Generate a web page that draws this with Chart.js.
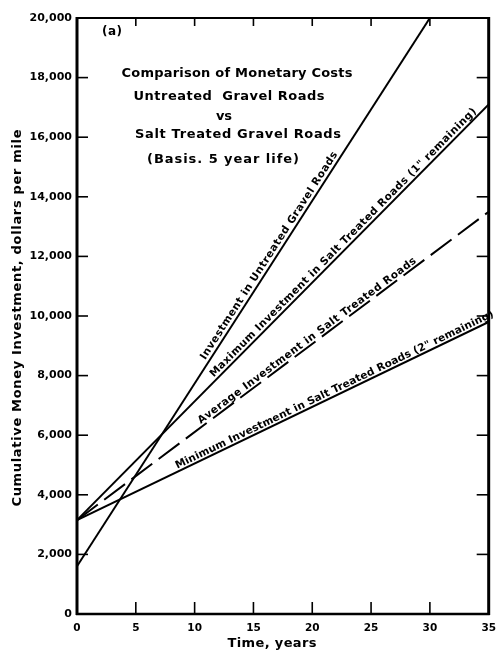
<!DOCTYPE html>
<html>
<head>
<meta charset="utf-8">
<script src="https://cdn.jsdelivr.net/npm/chart.js@4.4.1/dist/chart.umd.min.js"></script>
<style>
  html, body { margin: 0; padding: 0; background: #fff; }
  #c { display: block; }
</style>
</head>
<body>
<canvas id="c" width="504" height="656"></canvas>
<script>
// Cumulative investment (dollars per mile) against time (years)
const untreatedYears = [0, 30];
const untreatedCost = [1600, 20000];
const saltYears = [0, 35];
const maxCost = [3150, 17100];
const avgCost = [3150, 13500];
const minCost = [3150, 9800];

const xTickValues = [0, 5, 10, 15, 20, 25, 30, 35];
const yTickValues = [0, 2000, 4000, 6000, 8000, 10000, 12000, 14000, 16000, 18000, 20000];

const titleLines = [
  "Comparison of Monetary Costs",
  "Untreated  Gravel Roads",
  "vs",
  "Salt Treated Gravel Roads",
  "(Basis. 5 year life)"
];
const panelTag = "(a)";
const xTitle = "Time, years";
const yTitle = "Cumulative Money Investment, dollars per mile";

const labelUntreated = "Investment in Untreated Gravel Roads";
const labelMax = "Maximum Investment in Salt Treated Roads (1\" remaining)";
const labelAvg = "Average Investment in Salt Treated Roads";
const labelMin = "Minimum Investment in Salt Treated Roads (2\" remaining)";

const toPoints = (xs, ys) => xs.map((x, i) => ({ x: x, y: ys[i] }));

// Draw text stretched (by letter spacing) to a given width, centred on cx
function fitText(ctx, text, cx, cy, width) {
  const w0 = ctx.measureText(text).width;
  const n = text.length;
  if ('letterSpacing' in ctx && n > 1) {
    const ls = (width - w0) / (n - 1);
    ctx.letterSpacing = ls + 'px';
    ctx.textAlign = 'left';
    ctx.fillText(text, cx - width / 2, cy);
    ctx.letterSpacing = '0px';
  } else {
    ctx.save();
    ctx.translate(cx, cy);
    ctx.scale(width / w0, 1);
    ctx.textAlign = 'center';
    ctx.fillText(text, 0, 0);
    ctx.restore();
  }
}

// Text set along each line: [text, dataset index, centre year, length px, offset px]
const lineTextSpec = [
  [labelUntreated, 0, 16.8, 245, 6.5],
  [labelMax, 1, 23.0, 374, 6.0],
  [labelAvg, 2, 19.85, 270, 5.5],
  [labelMin, 3, 22.1, 352, 5.5]
];

const decorPlugin = {
  id: 'decor',
  afterDatasetsDraw(chart) {
    const ctx = chart.ctx;
    const xs = chart.scales.x, ys = chart.scales.y;
    const L = chart.chartArea.left, R = chart.chartArea.right;
    const T = chart.chartArea.top, B = chart.chartArea.bottom;
    ctx.save();
    ctx.strokeStyle = '#000';
    ctx.fillStyle = '#000';
    ctx.lineCap = 'butt';

    // frame
    ctx.lineWidth = 3;
    ctx.beginPath(); ctx.moveTo(L, T - 1); ctx.lineTo(L, B + 1); ctx.stroke();
    ctx.beginPath(); ctx.moveTo(R, T - 1); ctx.lineTo(R, B + 1); ctx.stroke();
    ctx.lineWidth = 2.5;
    ctx.beginPath(); ctx.moveTo(L - 1, B); ctx.lineTo(R + 1, B); ctx.stroke();
    ctx.lineWidth = 2;
    ctx.beginPath(); ctx.moveTo(L - 1, T); ctx.lineTo(R + 1, T); ctx.stroke();

    // inward tick marks
    ctx.lineWidth = 1.6;
    xTickValues.slice(1, -1).forEach(v => {
      const px = xs.getPixelForValue(v);
      ctx.beginPath(); ctx.moveTo(px, B); ctx.lineTo(px, B - 12); ctx.stroke();
      ctx.beginPath(); ctx.moveTo(px, T); ctx.lineTo(px, T + 8); ctx.stroke();
    });
    yTickValues.slice(1, -1).forEach(v => {
      const py = ys.getPixelForValue(v);
      ctx.beginPath(); ctx.moveTo(L, py); ctx.lineTo(L + 11, py); ctx.stroke();
      ctx.beginPath(); ctx.moveTo(R, py); ctx.lineTo(R - 12, py); ctx.stroke();
    });

    // heading block
    ctx.textBaseline = 'middle';
    ctx.font = 'bold 13px "DejaVu Sans"';
    fitText(ctx, titleLines[0], 237, 74, 231);
    fitText(ctx, titleLines[1], 229, 97, 191);
    ctx.textAlign = 'center';
    ctx.fillText(titleLines[2], 224, 117);
    fitText(ctx, titleLines[3], 238, 135, 206);
    fitText(ctx, titleLines[4], 223, 160, 152);
    ctx.font = 'bold 12px "DejaVu Sans"';
    fitText(ctx, panelTag, 112, 32, 20);

    // axis titles
    ctx.font = 'bold 13px "DejaVu Sans"';
    fitText(ctx, xTitle, 272, 644, 89);
    ctx.save();
    ctx.translate(18, 318);
    ctx.rotate(-Math.PI / 2);
    fitText(ctx, yTitle, 0, 0, 377);
    ctx.restore();

    // labels running along the lines
    ctx.font = 'bold 10.5px "DejaVu Sans"';
    lineTextSpec.forEach(([text, di, yr, len, off]) => {
      const pts = chart.data.datasets[di].data;
      const p0 = pts[0], p1 = pts[pts.length - 1];
      const val = p0.y + (p1.y - p0.y) * (yr - p0.x) / (p1.x - p0.x);
      const x0 = xs.getPixelForValue(p0.x), y0 = ys.getPixelForValue(p0.y);
      const x1 = xs.getPixelForValue(p1.x), y1 = ys.getPixelForValue(p1.y);
      const ang = Math.atan2(y1 - y0, x1 - x0);
      const cx = xs.getPixelForValue(yr), cy = ys.getPixelForValue(val);
      ctx.save();
      ctx.translate(cx, cy);
      ctx.rotate(ang);
      ctx.textBaseline = 'middle';
      fitText(ctx, text, 0, -off, len);
      ctx.restore();
    });
    ctx.restore();
  }
};

const lineStyle = {
  type: 'scatter',
  showLine: true,
  borderColor: '#000',
  backgroundColor: '#000',
  borderWidth: 2,
  pointRadius: 0,
  fill: false,
  tension: 0
};

new Chart(document.getElementById('c'), {
  type: 'scatter',
  data: {
    datasets: [
      Object.assign({ label: labelUntreated, data: toPoints(untreatedYears, untreatedCost) }, lineStyle),
      Object.assign({ label: labelMax, data: toPoints(saltYears, maxCost) }, lineStyle),
      Object.assign({ label: labelAvg, data: toPoints(saltYears, avgCost), borderDash: [26, 8] }, lineStyle),
      Object.assign({ label: labelMin, data: toPoints(saltYears, minCost) }, lineStyle)
    ]
  },
  options: {
    responsive: false,
    animation: false,
    devicePixelRatio: 1,
    layout: { padding: { top: 18, right: 8, left: 0, bottom: 0 } },
    plugins: { legend: { display: false }, tooltip: { enabled: false } },
    scales: {
      x: {
        type: 'linear',
        min: 0, max: 35,
        afterBuildTicks: s => { s.ticks = xTickValues.map(v => ({ value: v })); },
        afterFit: s => { s.height = 42; },
        grid: { display: false, drawTicks: false },
        border: { display: false },
        ticks: {
          color: '#000',
          padding: 8,
          maxRotation: 0,
          autoSkip: false,
          font: { family: 'DejaVu Sans', weight: 'bold', size: 10.5 }
        }
      },
      y: {
        type: 'linear',
        min: 0, max: 20000,
        afterBuildTicks: s => { s.ticks = yTickValues.map(v => ({ value: v })); },
        afterFit: s => { s.width = 77; },
        grid: { display: false, drawTicks: false },
        border: { display: false },
        ticks: {
          color: '#000',
          padding: 5,
          autoSkip: false,
          font: { family: 'DejaVu Sans', weight: 'bold', size: 11 },
          callback: v => v.toLocaleString('en-US')
        }
      }
    }
  },
  plugins: [decorPlugin]
});
</script>
</body>
</html>
